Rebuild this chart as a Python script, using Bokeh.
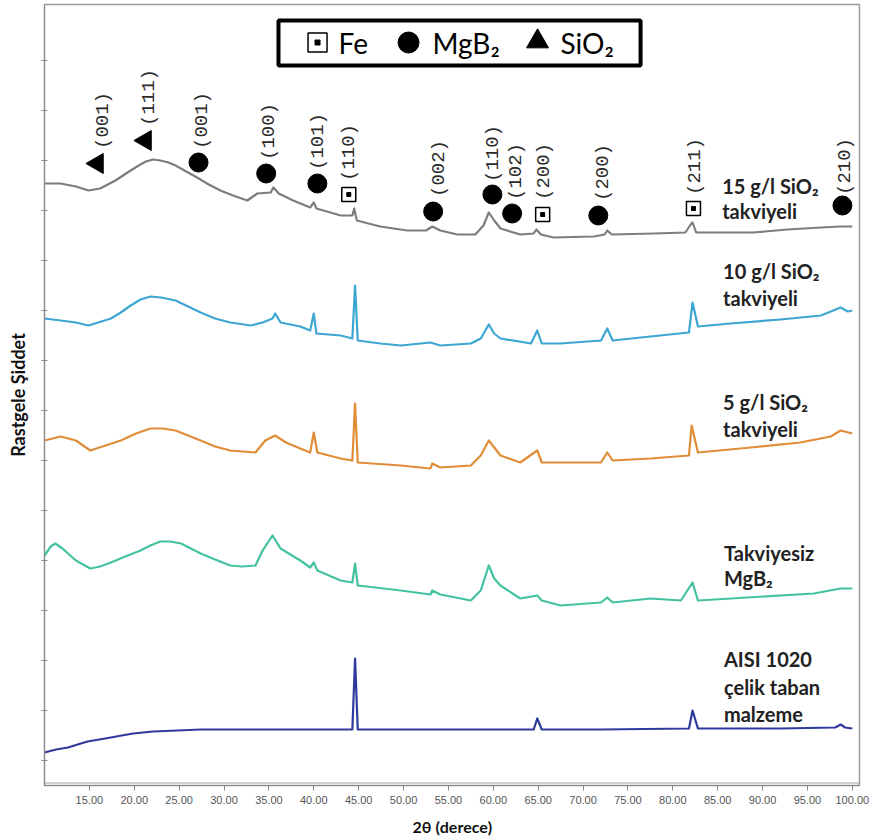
import math
from bokeh.plotting import figure
from bokeh.models import Range1d, FixedTicker, Label, Span
from bokeh.embed import file_html
from bokeh.resources import INLINE
from bokeh.core.properties import value

# ---------------- data (2theta in degrees, intensity in arbitrary units, offset stacked) -------------
t15 = [10.0, 11.8, 13.5, 14.9, 16.2, 17.9, 19.6, 20.5, 21.3, 22.1, 22.9, 23.8, 24.6, 25.8, 27.0, 28.3,
       29.6, 31.0, 32.6, 33.7, 35.2, 35.5, 36.1, 37.7, 39.6, 40.0, 40.3, 43.0, 44.3, 44.5, 44.8, 47.4,
       50.4, 52.5, 53.2, 54.1, 56.0, 58.0, 58.9, 59.5, 60.1, 60.8, 63.0, 64.5, 64.8, 65.3, 66.7, 71.2,
       72.4, 72.7, 73.2, 77.9, 81.4, 82.0, 82.2, 82.6, 89.0, 92.8, 96.5, 98.7, 100.0]
i15 = [602, 602, 599, 595, 597, 605, 615, 620, 624, 626, 625, 623, 620, 614, 608, 601,
       595, 590, 585, 592, 593, 598, 592, 585, 578, 583, 577, 570, 570, 577, 565, 559,
       555, 555, 559, 555, 551, 551, 560, 573, 565, 557, 551, 552, 556, 551, 548, 549,
       551, 555, 551, 552, 553, 561, 563, 553, 553, 556, 558, 559, 559]

t10 = [10.0, 11.8, 13.5, 14.9, 17.4, 18.5, 19.6, 20.7, 21.8, 23.0, 24.6, 26.0, 27.4, 29.0, 30.7, 33.0,
       34.3, 35.4, 35.7, 36.3, 38.5, 39.6, 40.0, 40.3, 43.0, 44.3, 44.6, 44.9, 47.4, 49.7, 53.0, 54.1,
       57.5, 58.6, 59.5, 60.1, 60.8, 64.2, 64.9, 65.4, 67.5, 72.0, 72.7, 73.3, 77.5, 81.8, 82.2, 82.8,
       86.4, 92.0, 96.5, 98.7, 99.5, 100.0]
i10 = [467, 465, 463, 460, 467, 473, 480, 486, 489, 488, 485, 479, 473, 467, 463, 460,
       463, 467, 472, 463, 459, 455, 472, 452, 450, 447, 500, 445, 442, 440, 443, 440,
       442, 447, 461, 452, 447, 442, 455, 442, 442, 445, 457, 445, 449, 453, 483, 459,
       462, 466, 470, 478, 474, 475]

t5 = [10.0, 11.8, 13.5, 15.1, 16.8, 18.5, 20.2, 21.8, 23.2, 24.6, 26.0, 27.4, 29.0, 30.7, 33.5, 34.6,
      35.7, 36.9, 38.5, 39.6, 40.0, 40.4, 43.0, 44.3, 44.6, 44.9, 49.7, 53.0, 53.2, 54.1, 57.5, 58.6,
      59.5, 60.8, 63.0, 64.9, 65.4, 72.0, 72.7, 73.3, 77.5, 81.8, 82.1, 82.8, 88.7, 94.2, 97.6, 98.7,
      100.0]
i5 = [345, 349, 345, 335, 340, 345, 352, 357, 357, 355, 350, 345, 339, 335, 333, 345,
      350, 343, 337, 333, 353, 333, 327, 325, 382, 323, 320, 317, 322, 318, 320, 330,
      345, 330, 323, 335, 323, 323, 333, 325, 327, 330, 360, 333, 338, 343, 349, 355,
      352]

t0 = [10.0, 10.7, 11.2, 12.0, 13.5, 15.1, 16.2, 17.4, 19.0, 20.7, 21.8, 22.9, 24.0, 25.2, 26.3, 27.4,
      29.0, 30.7, 32.0, 33.5, 34.3, 35.4, 36.3, 38.5, 39.6, 40.0, 40.4, 43.0, 44.3, 44.6, 44.9, 49.7,
      53.0, 53.2, 54.1, 57.5, 58.6, 59.5, 60.1, 60.8, 63.0, 64.9, 65.4, 67.5, 72.0, 72.7, 73.3, 77.5,
      80.9, 82.2, 82.8, 88.3, 95.7, 98.7, 100.0]
i0 = [230, 239, 242, 237, 225, 217, 219, 223, 229, 235, 240, 244, 244, 242, 237, 232,
      226, 220, 219, 220, 235, 250, 237, 225, 218, 223, 215, 205, 203, 222, 200, 195,
      191, 195, 191, 185, 195, 220, 207, 200, 187, 190, 185, 180, 183, 188, 183, 187,
      185, 203, 185, 188, 192, 197, 197]

tsub = [10.0, 11.3, 12.6, 14.8, 16.1, 17.4, 18.6, 19.9, 21.0, 22.1, 24.8, 27.4, 38.5, 44.3, 44.6, 44.9,
        55.2, 64.5, 64.9, 65.4, 72.0, 81.8, 82.2, 82.8, 92.0, 98.1, 98.7, 99.2, 100.0]
isub = [33, 36, 38, 44, 46, 48, 50, 52, 53, 54, 55, 56, 56, 56, 127, 56,
        56, 56, 67, 56, 56, 57, 75, 57, 57, 58, 61, 58, 57]

series_colors = ["#7d7d7d", "#3ea6d2", "#e08d38", "#43c1a1", "#2f3b9c"]

# series labels, anchored at 2theta / intensity
label_lines = ["15 g/l SiO\u2082", "takviyeli", "10 g/l SiO\u2082", "takviyeli",
               "5 g/l SiO\u2082", "takviyeli", "Takviyesiz", "MgB\u2082",
               "AISI 1020", "\u00e7elik taban", "malzeme"]
label_x = [85.5, 85.5, 85.6, 85.6, 85.6, 85.6, 85.7, 85.7, 85.7, 85.7, 85.7]
label_y = [600, 575, 515, 488, 384, 357, 233, 208, 127, 99, 72]

# phase peak annotations
peak_phase = ["SiO2", "SiO2", "MgB2", "MgB2", "MgB2", "Fe", "MgB2", "MgB2", "MgB2", "Fe", "MgB2", "Fe", "MgB2"]
peak_hkl = ["(001)", "(111)", "(001)", "(100)", "(101)", "(110)", "(002)", "(110)", "(102)", "(200)",
            "(200)", "(211)", "(210)"]
peak_mx = [15.9, 21.25, 27.16, 34.7, 40.4, 43.9, 53.3, 59.9, 62.1, 65.5, 71.7, 82.3, 98.9]
peak_my = [622, 645, 623, 612, 602, 591, 574, 591, 572, 571, 570, 577, 580]
peak_lx = [16.5, 21.6, 27.6, 35.0, 40.5, 43.95, 53.9, 60.0, 62.5, 65.6, 72.2, 82.5, 99.2]
peak_ly = [665, 688, 665, 654, 644, 633, 617, 632, 614, 614, 613, 619, 619]

legend_names = ["Fe", "MgB\u2082", "SiO\u2082"]

x_ticks = [15, 20, 25, 30, 35, 40, 45, 50, 55, 60, 65, 70, 75, 80, 85, 90, 95, 100]
y_ticks = [25, 75, 125, 175, 225, 275, 325, 375, 425, 475, 525, 575, 625, 675, 725]

# ---------------- figure -------------
p = figure(width=869, height=838, output_backend="svg", toolbar_location=None,
           x_range=Range1d(10, 100.8), y_range=Range1d(0, 781),
           min_border_left=44, min_border_right=10, min_border_top=4, min_border_bottom=53,
           background_fill_color="white", border_fill_color="white")
p.xgrid.visible = False
p.ygrid.visible = False
p.outline_line_color = "#9a9a9a"
p.outline_line_width = 1.5

# axes
p.xaxis.ticker = FixedTicker(ticks=x_ticks)
p.xaxis.major_label_overrides = {t: "%.2f" % t for t in x_ticks}
p.xaxis.major_label_text_font = "Liberation Sans"
p.xaxis.major_label_text_font_size = "11px"
p.xaxis.major_label_text_color = "#555555"
p.xaxis.major_tick_in = 0
p.xaxis.major_tick_out = 5
p.xaxis.minor_tick_line_color = None
p.xaxis.axis_line_color = "#8a8a8a"
p.xaxis.major_tick_line_color = "#8a8a8a"
p.xaxis.major_label_standoff = 5
p.xaxis.axis_label = "2\u03b8 (derece)"
p.xaxis.axis_label_text_font = "Lato"
p.xaxis.axis_label_text_font_style = "bold"
p.xaxis.axis_label_text_font_size = "16px"
p.xaxis.axis_label_text_color = "#111111"
p.xaxis.axis_label_standoff = 10

p.yaxis.ticker = FixedTicker(ticks=y_ticks)
p.yaxis.major_label_overrides = {t: "" for t in y_ticks}
p.yaxis.major_tick_in = 3
p.yaxis.major_tick_out = 3
p.yaxis.minor_tick_line_color = None
p.yaxis.axis_line_color = "#8a8a8a"
p.yaxis.major_tick_line_color = "#8a8a8a"
p.yaxis.major_label_standoff = 0
p.yaxis.axis_label = "Rastgele \u015eiddet"
p.yaxis.axis_label_text_font = "Lato"
p.yaxis.axis_label_text_font_style = "bold"
p.yaxis.axis_label_text_font_size = "18px"
p.yaxis.axis_label_text_color = "#111111"
p.yaxis.axis_label_standoff = 13

# second thin line just above the bottom axis (double rule as in the original)
p.add_layout(Span(location=2.5, dimension="width", line_color="#a0a0a0", line_width=1))

# curves
for (tt, ii), c in zip([(t15, i15), (t10, i10), (t5, i5), (t0, i0), (tsub, isub)], series_colors):
    p.line(tt, ii, line_color=c, line_width=2.2, line_join="round")

# series labels
for txt, lx, ly in zip(label_lines, label_x, label_y):
    p.add_layout(Label(x=lx, y=ly, text=txt, text_font="Lato", text_font_style="bold",
                       text_font_size="20px", text_baseline="middle", text_align="left",
                       text_color="#222222"))

# peak markers
circ = [i for i, ph in enumerate(peak_phase) if ph == "MgB2"]
tri = [i for i, ph in enumerate(peak_phase) if ph == "SiO2"]
fe = [i for i, ph in enumerate(peak_phase) if ph == "Fe"]
p.scatter([peak_mx[i] for i in circ], [peak_my[i] for i in circ], marker="circle", size=19,
          fill_color="black", line_color="black")
p.scatter([peak_mx[i] for i in tri], [peak_my[i] for i in tri], marker="triangle", size=20,
          angle=math.pi / 2, fill_color="black", line_color="black")
p.scatter([peak_mx[i] for i in fe], [peak_my[i] for i in fe], marker="square", size=14,
          fill_color="white", line_color="black", line_width=1.5)
p.scatter([peak_mx[i] for i in fe], [peak_my[i] for i in fe], marker="square", size=4,
          fill_color="black", line_color="black")

p.text(peak_lx, peak_ly, text=peak_hkl, angle=math.pi / 2, text_font=value("Liberation Mono"),
       text_font_size="19px", text_align="center", text_baseline="middle", text_color="#2a2a2a")

# legend box (drawn in data space, top centre)
p.quad(left=[36.07], right=[76.41], bottom=[720], top=[765], fill_color="white",
       line_color="black", line_width=4)
p.scatter([40.42], [743], marker="square", size=19, fill_color="white", line_color="black", line_width=1.5)
p.scatter([40.42], [743], marker="square", size=5, fill_color="black", line_color="black")
p.scatter([50.56], [743], marker="circle", size=21, fill_color="black", line_color="black")
p.scatter([64.93], [744], marker="triangle", size=22, fill_color="black", line_color="black")
for txt, lx in zip(legend_names, [42.76, 53.23, 67.49]):
    p.add_layout(Label(x=lx, y=743, text=txt, text_font="Lato", text_font_size="28px",
                       text_baseline="middle", text_align="left", text_color="black"))

open("out.html", "w").write(file_html(p, INLINE))
